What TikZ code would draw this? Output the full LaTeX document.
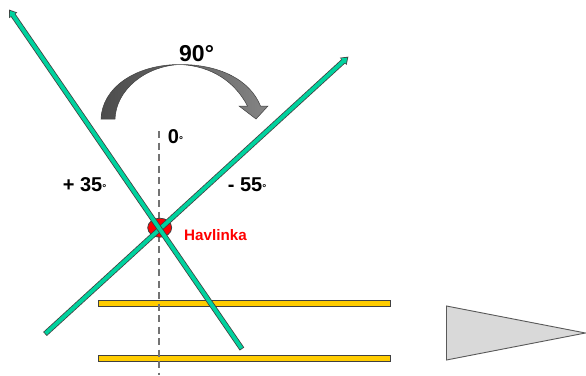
\documentclass[tikz,border=0pt]{standalone}
\usepackage{fontspec}
\setmainfont{Liberation Sans}
\usetikzlibrary{arrows.meta,shapes.geometric}
\definecolor{rodgreen}{HTML}{00D29E}
\definecolor{baryellow}{HTML}{FFCC00}
\definecolor{edgegray}{HTML}{404040}
\tikzset{
  rodedge/.style={draw=edgegray,line width=5.4pt,-{Triangle[length=7pt,width=9.5pt]},shorten >=-0.5pt},
  rodfill/.style={draw=rodgreen,line width=3.8pt,shorten >=1pt,shorten <=0.8pt,-{Triangle[length=5pt,width=7pt]}},
  barbox/.style={draw=edgegray,line width=0.8pt,fill=baryellow},
  lbl/.style={inner sep=0pt,anchor=base west},
}
\newcommand{\dg}{{\fontsize{10}{10}\selectfont °}}
\begin{document}
\begin{tikzpicture}[x=1pt,y=-1pt]
\useasboundingbox (0,0) rectangle (586,375);
% bars
\draw[barbox] (98.5,300.8) rectangle (390,306.5);
\draw[barbox] (98.5,355.8) rectangle (390,361.2);
% axis
\coordinate (axtop) at (159,131);
\coordinate (axbot) at (159,375);
\draw[draw=gray!90!black,line width=1.1pt,dash pattern=on 7pt off 4.5pt] (axtop) -- (axbot);
% pivot
\node[draw=edgegray,line width=0.8pt,fill=red,ellipse,minimum width=24pt,minimum height=19pt,inner sep=0pt] (pivot) at (159.7,227.7) {};
% rods
\coordinate (aend) at (242,349);
\coordinate (atip) at (9.5,10);
\coordinate (bend) at (45,334);
\coordinate (btip) at (348,57);
\draw[rodedge] (bend) -- (btip);
\draw[rodfill] (bend) -- (btip);
\draw[rodedge] (aend) -- (atip);
\draw[rodfill] (aend) -- (atip);
% turning arrow
\draw[draw=edgegray,line width=0.5pt,left color=black!70,right color=black!48,middle color=black!60]
  (101,119) .. controls (102,88) and (135,64.5) .. (180,64.5)
  .. controls (220,64.5) and (250,80) .. (260.5,106)
  -- (268,106) -- (256,119) -- (239,106) -- (247.5,106)
  .. controls (235,82) and (212,66) .. (180,64.5)
  .. controls (145,66) and (116,90) .. (115,119) -- cycle;
% triangle
\draw[draw=black!65,line width=0.9pt,fill=black!15] (446.5,306) -- (585.5,333) -- (446.5,360) -- cycle;
% labels
\node[lbl,font=\bfseries\fontsize{23}{23}\selectfont] (t90) at (179,61) {90°};
\node[lbl,font=\bfseries\fontsize{20}{20}\selectfont] (t0) at (167.7,143) {0\dg};
\node[lbl,font=\bfseries\fontsize{20}{20}\selectfont] (tp) at (62.7,191.7) {+ 35\dg};
\node[lbl,font=\bfseries\fontsize{20}{20}\selectfont] (tm) at (227.7,191.7) {- 55\dg};
\node[lbl,font=\bfseries\fontsize{15.2}{15.2}\selectfont,text=red] (th) at (184,240) {Havlinka};
\end{tikzpicture}
\end{document}
